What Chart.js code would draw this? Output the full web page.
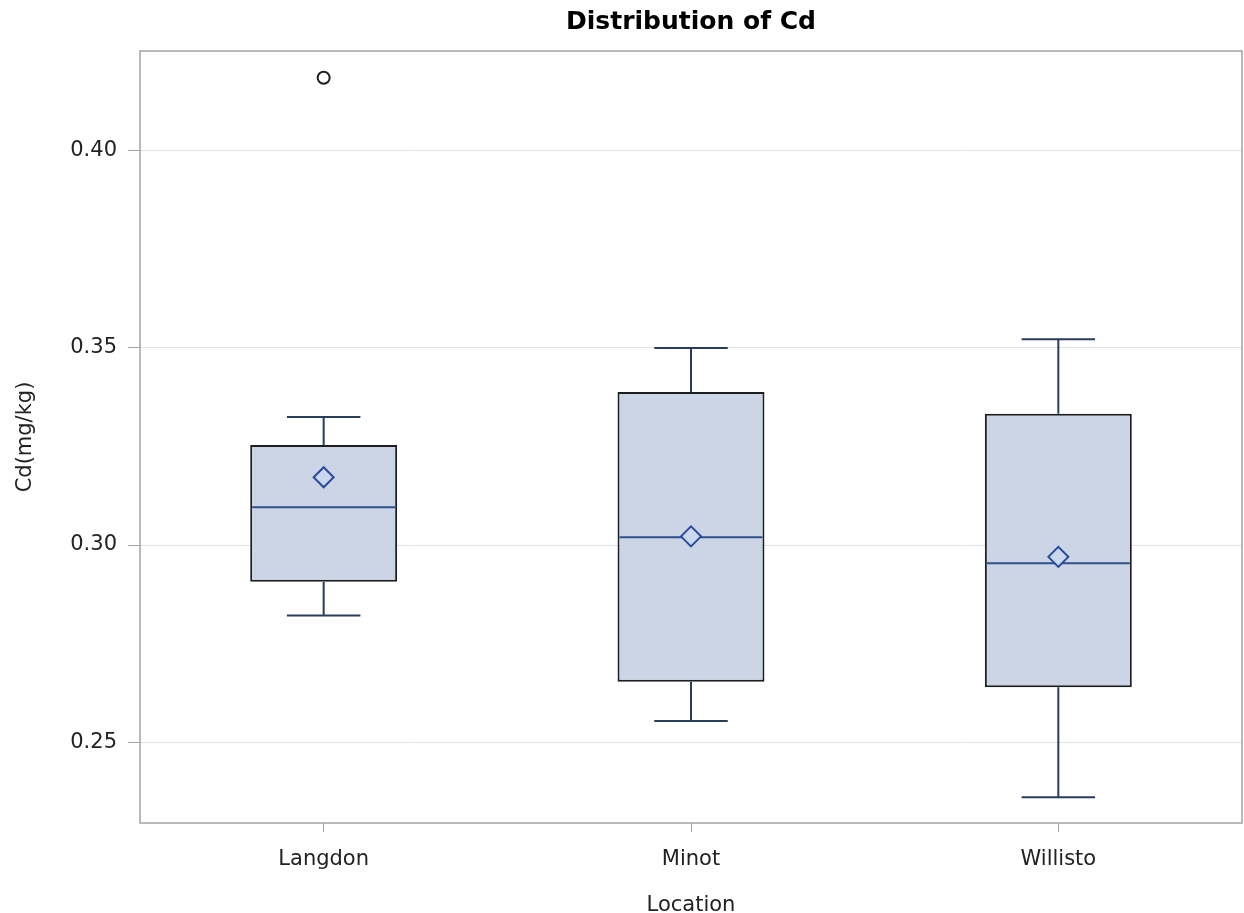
<!DOCTYPE html>
<html>
<head>
<meta charset="utf-8">
<title>Distribution of Cd</title>
<script src="https://cdn.jsdelivr.net/npm/chart.js@4"></script>
<style>
  html, body { margin: 0; padding: 0; background: #fff; }
</style>
</head>
<body>
<canvas id="myChart" width="1244" height="913"></canvas>
<script>
// box plot data
const locations = ["Langdon", "Minot", "Willisto"];
const q1 = [0.2907, 0.2653, 0.2639];
const q3 = [0.3254, 0.3388, 0.3333];
const median = [0.3096, 0.302, 0.2954];
const mean = [0.3172, 0.3022, 0.297];
const whiskerLow = [0.2821, 0.2554, 0.236];
const whiskerHigh = [0.3325, 0.35, 0.3522];
const outliers = [0.4185, null, null];
const yTicks = [0.25, 0.3, 0.35, 0.4];

const font = "'DejaVu Sans', sans-serif";

// whiskers + median line, drawn right after the boxes
const boxParts = {
  id: "boxParts",
  afterDatasetDraw(chart, args) {
    if (args.index !== 0) return;
    const ctx = chart.ctx;
    const x = chart.scales.x;
    const y = chart.scales.y;
    const catW = x.width / locations.length;
    ctx.save();
    ctx.lineWidth = 2;
    locations.forEach((loc, i) => {
      const cx = x.getPixelForValue(i);
      const capW = catW * 0.1;
      const boxW = catW * 0.2 - 2;
      ctx.strokeStyle = "#283d5c";
      ctx.beginPath();
      ctx.moveTo(cx, y.getPixelForValue(q3[i]));
      ctx.lineTo(cx, y.getPixelForValue(whiskerHigh[i]));
      ctx.moveTo(cx - capW, y.getPixelForValue(whiskerHigh[i]));
      ctx.lineTo(cx + capW, y.getPixelForValue(whiskerHigh[i]));
      ctx.moveTo(cx, y.getPixelForValue(q1[i]));
      ctx.lineTo(cx, y.getPixelForValue(whiskerLow[i]));
      ctx.moveTo(cx - capW, y.getPixelForValue(whiskerLow[i]));
      ctx.lineTo(cx + capW, y.getPixelForValue(whiskerLow[i]));
      ctx.stroke();
      ctx.strokeStyle = "#2d4f8e";
      ctx.beginPath();
      ctx.moveTo(cx - boxW, y.getPixelForValue(median[i]));
      ctx.lineTo(cx + boxW, y.getPixelForValue(median[i]));
      ctx.stroke();
    });
    ctx.restore();
  },
};

// grey frame round the plot area
const frame = {
  id: "frame",
  afterDraw(chart) {
    const { ctx, chartArea } = chart;
    ctx.save();
    ctx.strokeStyle = "#a3a3a3";
    ctx.lineWidth = 1.5;
    ctx.strokeRect(chartArea.left, chartArea.top, chartArea.right - chartArea.left, chartArea.bottom - chartArea.top);
    ctx.restore();
  },
};

const chartdata = {
  labels: locations,
  datasets: [
    {
      label: "Box",
      type: "bar",
      data: locations.map((loc, i) => [q1[i], q3[i]]),
      backgroundColor: "#cbd5e6",
      borderColor: "#1e1e1e",
      borderWidth: 2,
      borderSkipped: false,
      barPercentage: 0.4,
      categoryPercentage: 1,
      order: 3,
    },
    {
      label: "Mean",
      type: "line",
      data: mean,
      showLine: false,
      pointStyle: "rectRot",
      pointRadius: 10,
      pointBorderWidth: 2,
      pointBorderColor: "#2a4a9a",
      pointBackgroundColor: "#cad7ef",
      order: 1,
    },
    {
      label: "Outlier",
      type: "line",
      data: outliers,
      showLine: false,
      pointStyle: "circle",
      pointRadius: 6,
      pointBorderWidth: 2,
      pointBorderColor: "#1e1e1e",
      pointBackgroundColor: "rgba(0,0,0,0)",
      order: 1,
    },
  ],
};

const config = {
  type: "bar",
  data: chartdata,
  options: {
    responsive: false,
    animation: false,
    layout: { autoPadding: false, padding: { left: 0, right: 2, top: 0, bottom: 0 } },
    plugins: {
      legend: { display: false },
      tooltip: { enabled: false },
      title: {
        display: true,
        text: "Distribution of Cd",
        color: "#000",
        fullSize: false,
        font: { family: font, size: 25, weight: "bold" },
        padding: { top: 7, bottom: 14 },
      },
    },
    scales: {
      x: {
        type: "category",
        offset: true,
        grid: { drawOnChartArea: false, tickLength: 9, tickColor: "#a3a3a3", offset: false },
        border: { display: false },
        ticks: { color: "#222", font: { family: font, size: 21 }, padding: 15 },
        title: {
          display: true,
          text: "Location",
          color: "#222",
          font: { family: font, size: 21 },
          padding: { top: 0, bottom: -5 },
        },
        afterFit(scale) {
          scale.height = 90;
          scale.paddingLeft = 0;
          scale.paddingRight = 0;
        },
      },
      y: {
        min: 0.2295,
        max: 0.4253,
        afterBuildTicks(scale) {
          scale.ticks = yTicks.map((v) => ({ value: v }));
        },
        grid: { color: "#e3e3e3", tickLength: 12, tickColor: "#a3a3a3" },
        border: { display: false },
        ticks: {
          color: "#222",
          font: { family: font, size: 21 },
          padding: 11,
          callback: (v) => v.toFixed(2),
        },
        title: {
          display: true,
          text: "Cd(mg/kg)",
          color: "#222",
          font: { family: font, size: 21 },
          padding: { top: 13, bottom: 0 },
        },
        afterFit(scale) {
          scale.width = 140;
        },
      },
    },
  },
  plugins: [boxParts, frame],
};

const ctx = document.querySelector("#myChart");
const myChart = new Chart(ctx, config);
//end
</script>
</body>
</html>
